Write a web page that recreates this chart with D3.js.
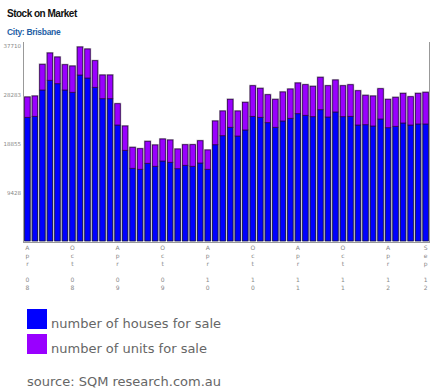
<!DOCTYPE html>
<html lang="en">
<head>
    <meta charset="UTF-8">
    <title>Stock on Market</title>
    <style>
        body {
            margin: 0;
            background: #fff;
        }
    </style>
</head>
<body>
    <script src="https://d3js.org/d3.v7.min.js"></script>
    <script>
        const W = 441
        const H = 392

        // months Apr 08 .. Sep 12
        const months = ['Apr 08','May 08','Jun 08','Jul 08','Aug 08','Sep 08','Oct 08','Nov 08','Dec 08',
            'Jan 09','Feb 09','Mar 09','Apr 09','May 09','Jun 09','Jul 09','Aug 09','Sep 09','Oct 09','Nov 09','Dec 09',
            'Jan 10','Feb 10','Mar 10','Apr 10','May 10','Jun 10','Jul 10','Aug 10','Sep 10','Oct 10','Nov 10','Dec 10',
            'Jan 11','Feb 11','Mar 11','Apr 11','May 11','Jun 11','Jul 11','Aug 11','Sep 11','Oct 11','Nov 11','Dec 11',
            'Jan 12','Feb 12','Mar 12','Apr 12','May 12','Jun 12','Jul 12','Aug 12','Sep 12']

        const houses = [23920, 24110, 29200, 31080, 30420, 29200, 28760, 32100, 31520,
            29720, 27520, 27520, 22430, 17540, 14060, 13870, 15030, 14450, 15470, 15220, 13980,
            14640, 14450, 15080, 13870, 18620, 20360, 21990, 20300, 21470, 24110, 23920, 22880,
            21990, 23210, 23730, 24620, 24310, 24040, 25390, 23980, 24950, 24040, 24110, 22430,
            22490, 22240, 23590, 21910, 22180, 22820, 22430, 22630, 22630]

        const units = [3930, 3930, 4970, 5280, 5160, 4890, 5080, 5420, 5610,
            5150, 4580, 4580, 4120, 4700, 4060, 3980, 4250, 4120, 4260, 4310, 3810,
            3980, 4180, 4310, 3730, 4590, 4780, 5410, 4840, 5350, 5920, 5610, 5410,
            5410, 5610, 5660, 5940, 5920, 5880, 6270, 6050, 6190, 5990, 6110, 6630,
            5690, 5800, 5860, 5490, 5610, 5740, 5470, 5930, 6130]

        const yTicks = [9428, 18855, 28283, 37710]
        const xTickMonths = ['Apr 08','Oct 08','Apr 09','Oct 09','Apr 10','Oct 10','Apr 11','Oct 11','Apr 12','Sep 12']

        const legendItems = ['number of houses for sale', 'number of units for sale']
        const colors = ['#0000ff', '#9900ff']

        const svg = d3.select('body')
            .append('svg')
            .attr('width', W)
            .attr('height', H)

        svg.append('text')
            .attr('x', 7)
            .attr('y', 17)
            .attr('font-family', 'Liberation Sans, Arial, sans-serif')
            .attr('font-weight', 'bold')
            .attr('font-size', 10)
            .attr('letter-spacing', -0.5)
            .attr('fill', '#111')
            .text('Stock on Market')

        svg.append('text')
            .attr('x', 7)
            .attr('y', 35)
            .attr('font-family', 'Liberation Sans, Arial, sans-serif')
            .attr('font-weight', 'bold')
            .attr('font-size', 8.5)
            .attr('letter-spacing', -0.3)
            .attr('fill', '#1f5fa6')
            .text('City: Brisbane')

        const x = d3.scaleBand()
            .domain(months)
            .range([24, 429])
            .paddingInner(0.14)
            .paddingOuter(0.02)

        const y = d3.scaleLinear()
            .domain([0, 37710])
            .range([241, 46])

        // frame lines left / right / bottom
        svg.append('line')
            .attr('x1', 23.5).attr('x2', 23.5)
            .attr('y1', 42).attr('y2', 242)
            .attr('stroke', '#999')
        svg.append('line')
            .attr('x1', 429.5).attr('x2', 429.5)
            .attr('y1', 42).attr('y2', 242)
            .attr('stroke', '#999')
        svg.append('line')
            .attr('x1', 23).attr('x2', 430)
            .attr('y1', 242.5).attr('y2', 242.5)
            .attr('stroke', '#999')

        const yAxis = d3.axisLeft(y)
            .tickValues(yTicks)
            .tickSize(0)
            .tickPadding(2)
            .tickFormat(d => d)

        const gy = svg.append('g')
            .attr('transform', 'translate(23, 0)')
            .call(yAxis)
        gy.select('.domain').remove()
        gy.selectAll('text')
            .attr('font-family', 'DejaVu Sans, sans-serif')
            .attr('font-size', 5.5)
            .attr('fill', '#888')

        const data = months.map((m, i) => ({ m, h: houses[i], u: units[i] }))

        const bars = svg.append('g')
            .selectAll('g')
            .data(data)
            .join('g')

        // light grey halo round every bar
        bars.append('rect')
            .attr('x', d => x(d.m) - 0.5)
            .attr('y', d => y(d.h + d.u) - 1)
            .attr('width', x.bandwidth() + 1)
            .attr('height', d => y(0) - y(d.h + d.u) + 1)
            .attr('fill', '#b8b8b8')

        bars.append('rect')
            .attr('x', d => x(d.m) + 0.5)
            .attr('y', d => y(d.h))
            .attr('width', x.bandwidth() - 1)
            .attr('height', d => y(0) - y(d.h))
            .attr('fill', colors[0])
            .attr('stroke', '#111144')
            .attr('stroke-width', 0.8)

        bars.append('rect')
            .attr('x', d => x(d.m) + 0.5)
            .attr('y', d => y(d.h + d.u))
            .attr('width', x.bandwidth() - 1)
            .attr('height', d => y(d.h) - y(d.h + d.u))
            .attr('fill', colors[1])
            .attr('stroke', '#330055')
            .attr('stroke-width', 0.8)

        // vertical month labels, one character per row
        const xl = svg.append('g')
            .selectAll('text')
            .data(xTickMonths)
            .join('text')
            .attr('x', d => x(d) + x.bandwidth() / 2)
            .attr('y', 250)
            .attr('text-anchor', 'middle')
            .attr('font-family', 'DejaVu Sans, sans-serif')
            .attr('font-size', 6)
            .attr('fill', '#888')
        xl.selectAll('tspan')
            .data(d => d.split(''))
            .join('tspan')
            .attr('x', function () { return d3.select(this.parentNode).attr('x') })
            .attr('dy', (c, i) => i === 0 ? 0 : 8)
            .text(c => c === ' ' ? '\u00a0' : c)

        const lg = svg.append('g')
            .selectAll('g')
            .data(legendItems)
            .join('g')
            .attr('transform', (d, i) => `translate(27, ${309 + i * 25})`)
        lg.append('rect')
            .attr('width', 20)
            .attr('height', 20)
            .attr('fill', (d, i) => colors[i])
        lg.append('text')
            .attr('x', 24)
            .attr('y', 19)
            .attr('font-family', 'DejaVu Sans, Verdana, sans-serif')
            .attr('font-size', 13)
            .attr('fill', '#666')
            .text(d => d)

        svg.append('text')
            .attr('x', 27)
            .attr('y', 386)
            .attr('font-family', 'DejaVu Sans, Verdana, sans-serif')
            .attr('font-size', 13)
            .attr('fill', '#666')
            .text('source: SQM research.com.au')
    </script>
</body>
</html>
